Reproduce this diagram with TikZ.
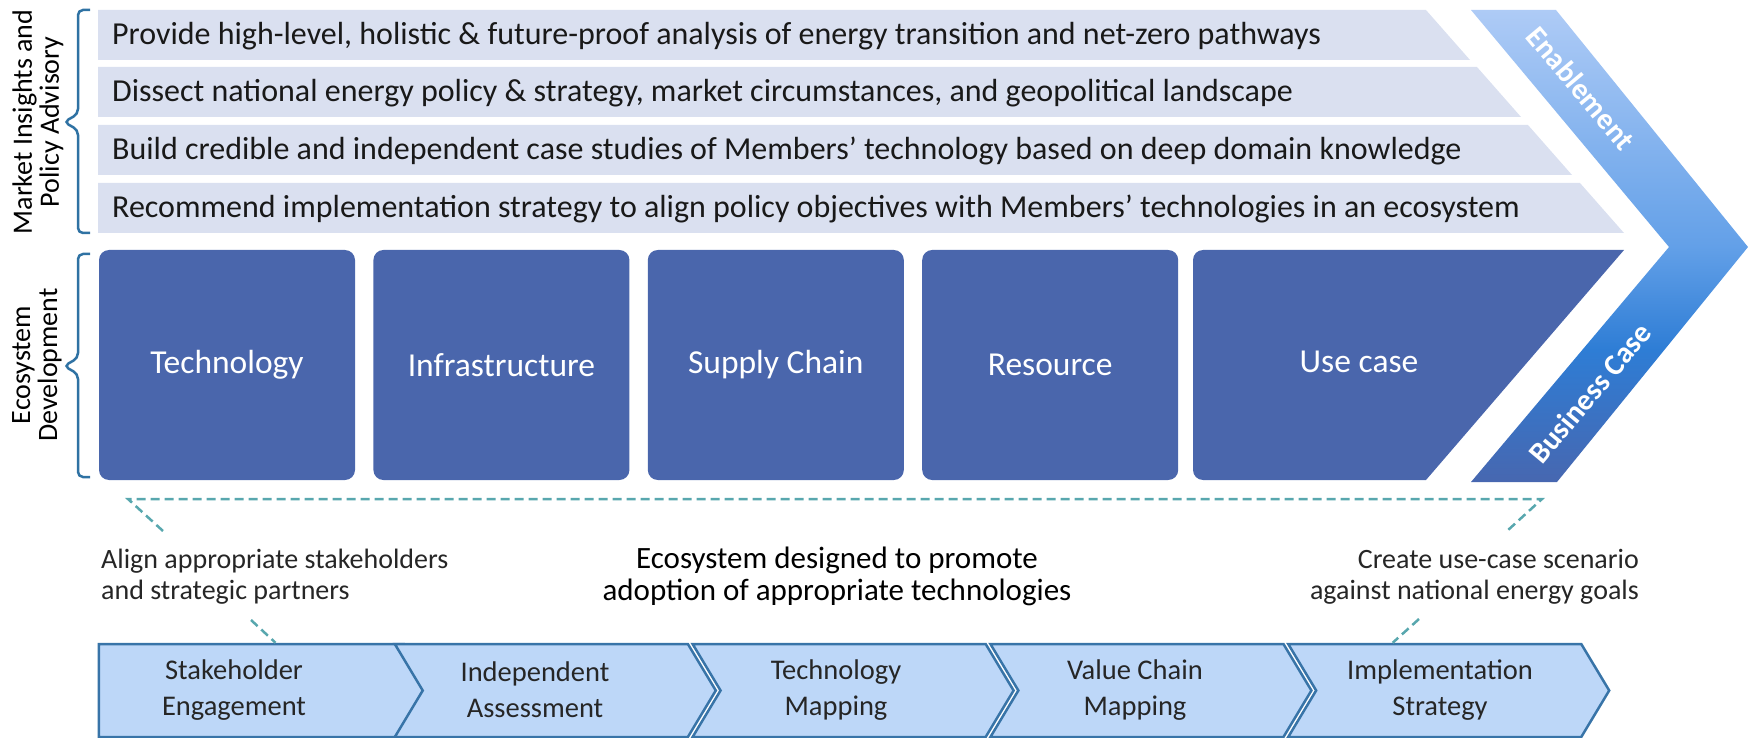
\documentclass[tikz,border=0pt]{standalone}
\usepackage{fontspec}
\setmainfont{Carlito}
\usetikzlibrary{positioning,shapes.symbols}

\definecolor{bandfill}{HTML}{DAE0F0}
\definecolor{boxblue}{HTML}{4A66AC}
\definecolor{bracecol}{HTML}{2F72A3}
\definecolor{dashcol}{HTML}{58A7AE}
\definecolor{stepfill}{HTML}{BDD7F8}
\definecolor{stepline}{HTML}{3874A8}
\definecolor{txtdark}{HTML}{262626}
\definecolor{bctop}{HTML}{AECBF6}
\definecolor{bcmid}{HTML}{63A0E8}
\definecolor{bcbright}{HTML}{2E7DD5}
\definecolor{bcbot}{HTML}{4767B0}

\pgfdeclareverticalshading{chevshade}{100bp}{color(0bp)=(bcbot); color(25bp)=(bcbot); color(39bp)=(bcbright); color(50bp)=(bcmid); color(75bp)=(bctop); color(100bp)=(bctop)}

\begin{document}
\begin{tikzpicture}[
        x=1pt, y=-1pt,
        bandtext/.style={
                anchor=base west,
                inner sep=0pt,
                text=black!90,
                font=\fontsize{32}{38}\selectfont
            },
        ecobox/.style={
                rectangle,
                rounded corners=10pt,
                fill=boxblue,
                text=white,
                minimum width=256pt,
                minimum height=230pt,
                font=\fontsize{33.5}{40}\selectfont
            },
        sidelabel/.style={
                rotate=90,
                align=center,
                font=\fontsize{28}{27}\selectfont
            },
        chevlabel/.style={
                text=white,
                font=\fontsize{30}{36}\selectfont\bfseries
            },
        note/.style={
                text=txtdark,
                inner sep=0pt,
                font=\fontsize{28}{31}\selectfont
            },
        stepbox/.style={
                signal,
                signal to=east,
                signal from=west,
                signal pointer angle=118,
                draw=stepline,
                line width=2.5pt,
                fill=stepfill,
                minimum width=321pt,
                minimum height=93pt
            },
        steptext/.style={
                align=center,
                text=txtdark,
                font=\fontsize{28.5}{36}\selectfont
            },
        sidebrace/.style={draw=bracecol, line width=2.5pt, rounded corners=5pt},
        link/.style={draw=dashcol, line width=2.5pt, dash pattern=on 9pt off 5pt}
    ]
    \useasboundingbox (0,0) rectangle (1749,738);

    % advisory bands
    \fill[bandfill] (98,10) -- (1426,10) -- (1470,60) -- (98,60) -- cycle;
    \fill[bandfill] (98,67) -- (1477,67) -- (1521,117) -- (98,117) -- cycle;
    \fill[bandfill] (98,125) -- (1528,125) -- (1572,175) -- (98,175) -- cycle;
    \fill[bandfill] (98,183) -- (1580,183) -- (1624,233) -- (98,233) -- cycle;
    \node[bandtext] (band1) at (112,45) {Provide high-level, holistic \& future-proof analysis of energy transition and net-zero pathways};
    \node[bandtext] (band2) at (112,102) {Dissect national energy policy \& strategy, market circumstances, and geopolitical landscape};
    \node[bandtext] (band3) at (112,160) {Build credible and independent case studies of Members’ technology based on deep domain knowledge};
    \node[bandtext] (band4) at (112,218) {Recommend implementation strategy to align policy objectives with Members’ technologies in an ecosystem};

    % ecosystem boxes
    \node[ecobox] (tech) at (227,365) {Technology};
    \node[ecobox] (infra) [right=18pt of tech] {Infrastructure};
    \node[ecobox] (supply) [right=18pt of infra] {Supply Chain};
    \node[ecobox] (resource) [right=18pt of supply] {Resource};
    \fill[boxblue] (1624,250) -- (1203,250) arc[start angle=270, end angle=180, radius=10]
        -- (1193,470) arc[start angle=180, end angle=90, radius=10] -- (1426,480) -- cycle;
    \node[text=white, font=\fontsize{33.5}{40}\selectfont] (usecase) at (1359,362) {Use case};

    % big chevron
    \shade[shading=chevshade] (1471,10) -- (1556,10) -- (1748,247) -- (1557,482) -- (1471,482) -- (1669,247) -- cycle;
    \node[chevlabel, rotate=-50] (enable) at (1581,88) {Enablement};
    \node[chevlabel, rotate=50] (bizcase) at (1590,393) {Business Case};

    % side braces
    \draw[sidebrace] (90,10) -- (78,10) -- (78,114) -- (64,122) -- (78,130) -- (78,233) -- (90,233);
    \draw[sidebrace] (90,254) -- (78,254) -- (78,358) -- (64,366) -- (78,374) -- (78,477) -- (90,477);
    \node[sidelabel] (mipa) at (38,122) {Market Insights and\\Policy Advisory};
    \node[sidelabel] (ecodev) at (37,365) {Ecosystem\\Development};

    % notes
    \node[note, align=left, anchor=west] (aligntxt) at (101,577) {Align appropriate stakeholders\\and strategic partners};
    \node[note, align=center, text=black, font=\fontsize{31}{32}\selectfont] (ecotxt) at (837,576) {Ecosystem designed to promote\\adoption of appropriate technologies};
    \node[note, align=right, anchor=east] (createtxt) at (1639,577) {Create use-case scenario\\against national energy goals};

    % process steps
    \node[stepbox, signal from=nowhere, minimum width=333pt] (stake) at (251.5,690.5) {};
    \node[stepbox] (assess) at (555.3,690.5) {};
    \node[stepbox] (techmap) at (853.1,690.5) {};
    \node[stepbox] (valmap) at (1150.9,690.5) {};
    \node[stepbox] (impl) at (1448.7,690.5) {};
    \node[steptext] (staketxt) at (234,690) {Stakeholder\\Engagement};
    \node[steptext] (assesstxt) at (535,690) {Independent\\Assessment};
    \node[steptext] (techmaptxt) at (836,690) {Technology\\Mapping};
    \node[steptext] (valmaptxt) at (1135,690) {Value Chain\\Mapping};
    \node[steptext] (impltxt) at (1440,690) {Implementation\\Strategy};

    % dashed links
    \coordinate (dashLlow) at (163,531);
    \coordinate (dashLtop) at (128,499);
    \coordinate (dashRtop) at (1542,499);
    \coordinate (dashRlow) at (1507,531);
    \draw[link] (dashLlow) -- (dashLtop) -- (dashRtop) -- (dashRlow);
    \coordinate (alignlink) at (251,620);
    \coordinate (createlink) at (1419,619);
    \draw[link] (alignlink) -- ([xshift=24pt]stake.north);
    \draw[link] (createlink) -- ([xshift=-56pt]impl.north);
\end{tikzpicture}
\end{document}
